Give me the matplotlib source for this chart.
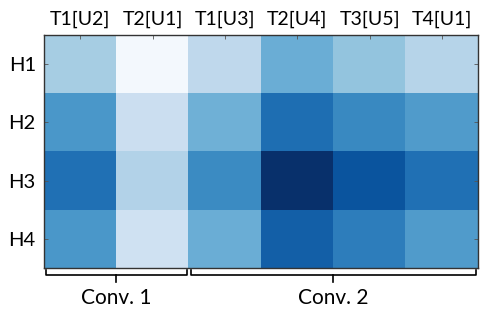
import matplotlib
matplotlib.use("Agg")
import matplotlib.pyplot as plt
import matplotlib.transforms as mtransforms
import numpy as np

plt.rcParams["font.family"] = ["Lato", "DejaVu Sans"]

columns = ["T1[U2]", "T2[U1]", "T1[U3]", "T2[U4]", "T3[U5]", "T4[U1]"]
rows = ["H1", "H2", "H3", "H4"]
values = np.array([
    [0.35, 0.02, 0.27, 0.50, 0.40, 0.30],
    [0.60, 0.22, 0.49, 0.76, 0.66, 0.58],
    [0.75, 0.31, 0.65, 1.00, 0.86, 0.75],
    [0.60, 0.20, 0.50, 0.82, 0.70, 0.58],
])
groups = ["Conv. 1", "Conv. 2"]
group_spans = [(0, 1), (2, 5)]

fig = plt.figure(figsize=(4.8, 3.09), dpi=100)
ax = fig.add_axes([0.092, 0.133, 0.904, 0.754])
ax.imshow(values, cmap="Blues", vmin=0, vmax=1, aspect="auto",
          interpolation="nearest")

ax.set_xticks(range(len(columns)))
ax.set_xticklabels(columns, fontsize=14)
ax.set_yticks(range(len(rows)))
ax.set_yticklabels(rows, fontsize=14.5)
ax.tick_params(axis="x", top=True, bottom=False, labeltop=True,
               labelbottom=False, direction="in", length=3, width=0.6,
               pad=5, color="#555555")
ax.tick_params(axis="y", left=True, right=True, direction="in", length=3,
               width=0.6, pad=6, color="#555555")
for spine in ax.spines.values():
    spine.set_linewidth(1.0)
    spine.set_color("#333333")

# brackets under the grid
trans = mtransforms.blended_transform_factory(ax.transData, ax.transAxes)
for name, (start, end) in zip(groups, group_spans):
    x0, x1 = start - 0.47, end + 0.47
    mid = (start + end) / 2
    ax.plot([x0, x0, x1, x1], [-0.01, -0.03, -0.03, -0.01], color="black",
            lw=1.2, transform=trans, clip_on=False)
    ax.plot([mid, mid], [-0.03, -0.06], color="black", lw=1.2,
            transform=trans, clip_on=False)
    ax.text(mid, -0.13, name, transform=trans, ha="center", va="center",
            fontsize=15)

fig.savefig("out.png", dpi=100)
